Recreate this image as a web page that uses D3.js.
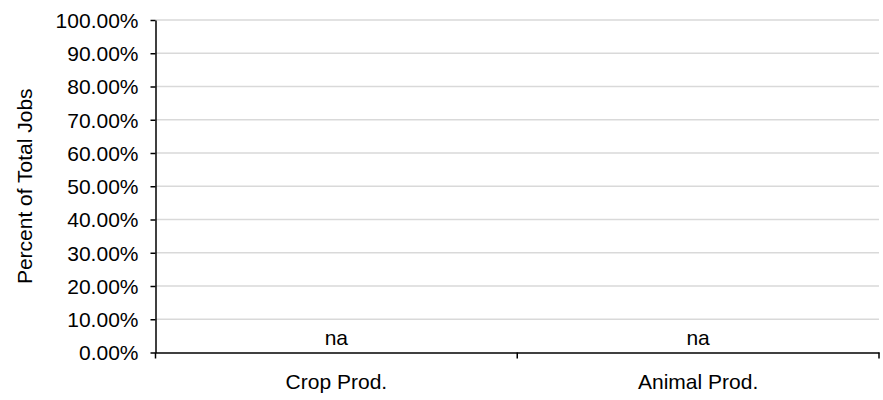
<!DOCTYPE html>
<html>
<head>
<meta charset="utf-8">
<script src="https://cdn.jsdelivr.net/npm/d3@7"></script>
<style>
  body { margin: 0; background: #fff; }
  svg text { font-family: "Liberation Sans", Arial, sans-serif; fill: #000; }
</style>
</head>
<body>
<svg id="chart" width="883" height="400"></svg>
<script>
const categories = ["Crop Prod.", "Animal Prod."];
const values = [null, null];          // data not available
const valueLabels = ["na", "na"];
const yTicks = [0, 0.1, 0.2, 0.3, 0.4, 0.5, 0.6, 0.7, 0.8, 0.9, 1.0];
const yTitle = "Percent of Total Jobs";

const svg = d3.select("#chart");
const margin = { left: 155.5, right: 4, top: 20, bottom: 47.5 };
const W = 883, H = 400;
const x = d3.scaleBand().domain(categories).range([margin.left, W - margin.right]).padding(0);
const y = d3.scaleLinear().domain([0, 1]).range([H - margin.bottom, margin.top]);

// gridlines
svg.append("g").selectAll("line").data(yTicks.filter(d => d > 0)).join("line")
  .attr("x1", margin.left).attr("x2", W - margin.right)
  .attr("y1", d => y(d)).attr("y2", d => y(d))
  .attr("stroke", "#d9d9d9").attr("stroke-width", 1.5);

// y axis
const fmt = d3.format(".2%");
const yAxis = svg.append("g").attr("transform", `translate(${margin.left},0)`)
  .call(d3.axisLeft(y).tickValues(yTicks).tickFormat(fmt).tickSize(5).tickSizeOuter(0).tickPadding(12));
yAxis.select(".domain").attr("stroke", "#000").attr("stroke-width", 1.5);
yAxis.selectAll(".tick line").attr("stroke", "#000").attr("stroke-width", 1.5);
yAxis.selectAll(".tick text").attr("font-size", 21).attr("dy", "0.35em");

// x axis
const xAxis = svg.append("g").attr("transform", `translate(0,${y(0)})`)
  .call(d3.axisBottom(x).tickSize(0).tickSizeOuter(0).tickPadding(22));
xAxis.select(".domain").attr("stroke", "#000").attr("stroke-width", 1.5);
xAxis.selectAll(".tick text").attr("font-size", 21).attr("dy", "0.71em");
// category boundary ticks
const bounds = [x.range()[0], ...categories.slice(1).map(c => x(c)), x.range()[1]];
xAxis.append("g").selectAll("line").data(bounds).join("line")
  .attr("x1", d => d).attr("x2", d => d).attr("y1", 0).attr("y2", 6)
  .attr("stroke", "#000").attr("stroke-width", 1.5);

// value labels (na)
svg.append("g").selectAll("text").data(categories).join("text")
  .attr("x", d => x(d) + x.bandwidth() / 2)
  .attr("y", (d, i) => y(values[i] || 0) - 8)
  .attr("text-anchor", "middle").attr("font-size", 21)
  .text((d, i) => valueLabels[i]);

// y title
svg.append("text")
  .attr("transform", `translate(32,${(y(0) + y(1)) / 2}) rotate(-90)`)
  .attr("text-anchor", "middle").attr("font-size", 21)
  .text(yTitle);
</script>
</body>
</html>
